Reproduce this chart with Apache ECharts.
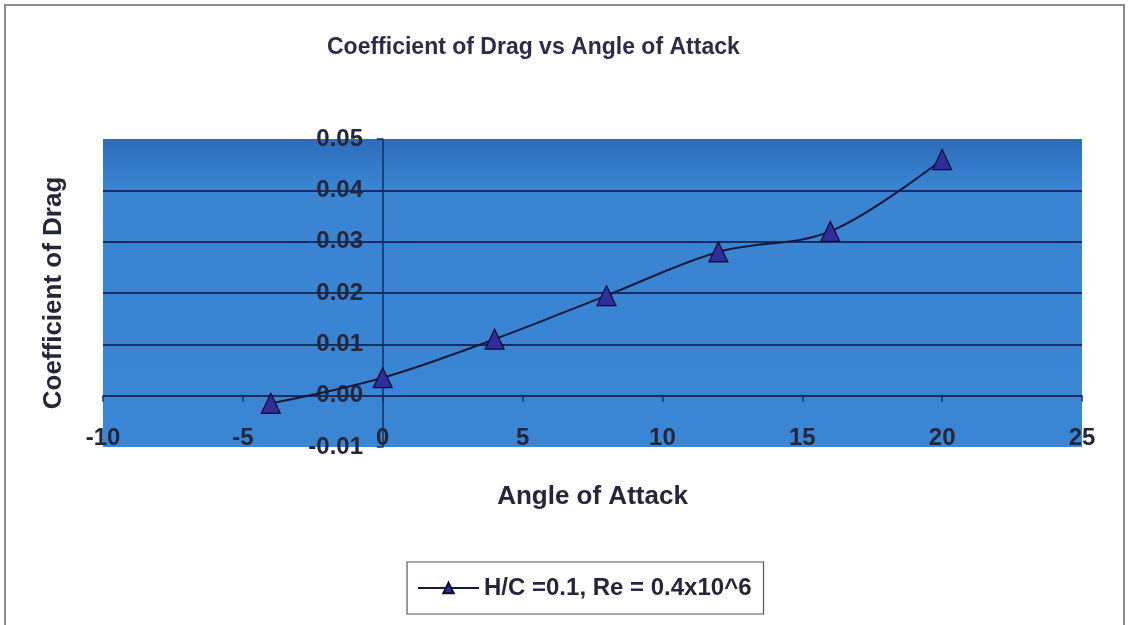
<!DOCTYPE html>
<html>
<head>
<meta charset="utf-8">
<script src="https://cdn.jsdelivr.net/npm/echarts@6/dist/echarts.min.js"></script>
<style>
  html, body { margin: 0; padding: 0; background: #fff; }
  #chart { width: 1129px; height: 625px; }
</style>
</head>
<body>
<div id="chart"></div>
<script>
// Angle of attack (degrees) and measured drag coefficient
const angles = [-4, 0, 4, 8, 12, 16, 20];
const dragCoef = [-0.0015, 0.0035, 0.011, 0.0195, 0.028, 0.032, 0.046];
const seriesName = 'H/C =0.1, Re = 0.4x10^6';

const FONT = 'Liberation Sans, Arial, sans-serif';
const TEXT = '#26263a';
const NAVY = '#1b2d5c';

const chart = echarts.init(document.getElementById('chart'), null, { renderer: 'canvas' });

chart.setOption({
  backgroundColor: '#ffffff',
  animation: false,
  title: {
    text: 'Coefficient of Drag vs Angle of Attack',
    left: 322,
    top: 31,
    textStyle: { fontFamily: FONT, fontSize: 23, fontWeight: 'bold', color: '#2c2c48' }
  },
  graphic: [{
    type: 'rect',
    shape: { x: 5, y: 5, width: 1119, height: 640 },
    style: { fill: 'none', stroke: '#8c8c8c', lineWidth: 2 },
    silent: true
  }],
  grid: {
    left: 103, right: 47, top: 139, bottom: 178,
    containLabel: false,
    outerBoundsMode: 'none',
    show: true,
    borderWidth: 0,
    backgroundColor: {
      type: 'linear', x: 0, y: 0, x2: 0, y2: 1,
      colorStops: [
        { offset: 0, color: '#2c6cbb' },
        { offset: 0.15, color: '#3a84d2' },
        { offset: 1, color: '#3a86d4' }
      ]
    }
  },
  legend: {
    left: 407, top: 562,
    width: 362,
    padding: [14, 12, 14, 10],
    borderColor: '#555',
    borderWidth: 1.2,
    itemWidth: 61,
    itemHeight: 13,
    itemGap: 8,
    textStyle: { fontFamily: FONT, fontSize: 24, fontWeight: 'bold', color: TEXT },
    data: [seriesName]
  },
  xAxis: {
    type: 'value',
    min: -10, max: 25, interval: 5,
    name: 'Angle of Attack',
    nameLocation: 'middle',
    nameGap: 37,
    nameTextStyle: { fontFamily: FONT, fontSize: 26, fontWeight: 'bold', color: TEXT },
    axisLine: { onZero: true, lineStyle: { color: NAVY, width: 1.5 } },
    axisTick: { show: true, length: 6, lineStyle: { color: NAVY, width: 1.5 } },
    // tick labels sit below the zero line, inside the plot band
    axisLabel: { margin: -21, fontFamily: FONT, fontSize: 24, fontWeight: 'bold', color: TEXT },
    splitLine: { show: false }
  },
  yAxis: {
    type: 'value',
    min: -0.01, max: 0.05, interval: 0.01,
    name: 'Coefficient of Drag',
    nameLocation: 'middle',
    nameRotate: 90,
    nameGap: 36,
    nameTextStyle: { fontFamily: FONT, fontSize: 26, fontWeight: 'bold', color: TEXT },
    axisLine: { onZero: true, lineStyle: { color: NAVY, width: 1.5 } },
    axisTick: { show: true, length: 6, lineStyle: { color: NAVY, width: 1.5 } },
    // tick labels hug the left of the x = 0 line
    axisLabel: {
      margin: -260, fontFamily: FONT, fontSize: 24, fontWeight: 'bold', color: TEXT,
      formatter: v => v.toFixed(2)
    },
    splitLine: {
      show: true, showMinLine: false, showMaxLine: false,
      lineStyle: { color: NAVY, width: 1.8 }
    }
  },
  series: [{
    name: seriesName,
    type: 'line',
    data: angles.map((a, i) => [a, dragCoef[i]]),
    smooth: 0.35,
    symbol: 'triangle',
    symbolSize: [19, 20],
    lineStyle: { color: '#15193a', width: 2 },
    itemStyle: { color: '#2e2e9c', borderColor: '#0e0e2a', borderWidth: 1.2 },
    z: 5
  }]
});
</script>
</body>
</html>
